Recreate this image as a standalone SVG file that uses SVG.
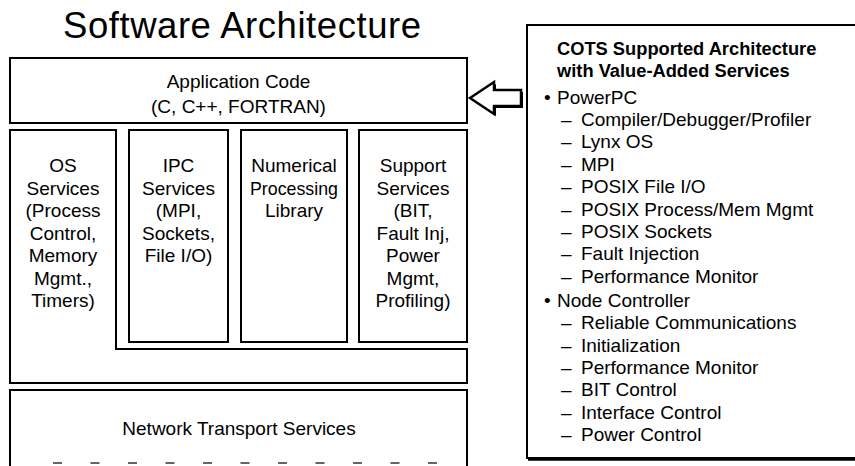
<svg xmlns="http://www.w3.org/2000/svg" width="855" height="466" viewBox="0 0 855 466">
<style>
  .box{fill:#fff;stroke:#000;stroke-width:2}
  .ln{fill:none;stroke:#000;stroke-width:2}
  .t{font-family:"Liberation Sans",Arial,Helvetica,sans-serif;font-size:19px;fill:#000}
  .c{text-anchor:middle}
  .title{font-size:36.5px}
  .b{font-weight:bold;font-size:18.3px}
</style>
<rect width="855" height="466" fill="#fff"/>
<text class="t title" x="63" y="38" textLength="358" lengthAdjust="spacing">Software Architecture</text>

<g id="app-code">
  <rect class="box" x="10" y="58" width="457" height="65"/>
  <text class="t c" x="238.5" y="88">Application Code</text>
  <text class="t c" x="238.5" y="113">(C, C++, FORTRAN)</text>
</g>

<g id="os-services">
  <path class="box" d="M10,130 H116 V349 H467 V383 H10 Z"/>
  <text class="t c" x="63" y="172">OS</text>
  <text class="t c" x="63" y="194.5">Services</text>
  <text class="t c" x="63" y="217">(Process</text>
  <text class="t c" x="63" y="239.5">Control,</text>
  <text class="t c" x="63" y="262">Memory</text>
  <text class="t c" x="63" y="284.5">Mgmt.,</text>
  <text class="t c" x="63" y="307">Timers)</text>
</g>

<g id="ipc-services">
  <rect class="box" x="129" y="130" width="99" height="212"/>
  <text class="t c" x="178.5" y="172">IPC</text>
  <text class="t c" x="178.5" y="194.5">Services</text>
  <text class="t c" x="178.5" y="217">(MPI,</text>
  <text class="t c" x="178.5" y="239.5">Sockets,</text>
  <text class="t c" x="178.5" y="262">File I/O)</text>
</g>

<g id="numerical-library">
  <rect class="box" x="241" y="130" width="106" height="212"/>
  <text class="t c" x="294" y="172">Numerical</text>
  <text class="t c" x="294" y="194.5" textLength="88" lengthAdjust="spacingAndGlyphs">Processing</text>
  <text class="t c" x="294" y="217">Library</text>
</g>

<g id="support-services">
  <rect class="box" x="359" y="130" width="108" height="212"/>
  <text class="t c" x="413" y="172">Support</text>
  <text class="t c" x="413" y="194.5">Services</text>
  <text class="t c" x="413" y="217">(BIT,</text>
  <text class="t c" x="413" y="239.5">Fault Inj,</text>
  <text class="t c" x="413" y="262">Power</text>
  <text class="t c" x="413" y="284.5">Mgmt,</text>
  <text class="t c" x="413" y="307">Profiling)</text>
</g>

<g id="network-transport">
  <path class="ln" d="M10,466 V390 H467 V466"/>
  <line x1="53" y1="463" x2="450" y2="463" stroke="#333" stroke-width="1.5" stroke-dasharray="9 28.5"/>
  <text class="t c" x="239" y="435">Network Transport Services</text>
</g>

<g id="connectors">
  <polygon points="472,100 496,84 496,92 523,92 523,108 496,108 496,116" fill="#000"/>
  <polygon points="470,98 494,82 494,90 521,90 521,106 494,106 494,114" fill="#fff" stroke="#000" stroke-width="2.5" stroke-linejoin="miter"/>
</g>

<g id="cots-panel">
  <rect x="527" y="25" width="340" height="433" fill="#fff" stroke="#000" stroke-width="2"/>
  <line x1="528" y1="459" x2="855" y2="459" stroke="#000" stroke-width="3.5"/>
  <text class="t b" x="557" y="55">COTS Supported Architecture</text>
  <text class="t b" x="557" y="77">with Value-Added Services</text>
  <text class="t" y="103.5"><tspan x="544">•</tspan><tspan x="557">PowerPC</tspan></text>
  <text class="t" y="125.9"><tspan x="561">–</tspan><tspan x="581">Compiler/Debugger/Profiler</tspan></text>
  <text class="t" y="148.3"><tspan x="561">–</tspan><tspan x="581">Lynx OS</tspan></text>
  <text class="t" y="170.7"><tspan x="561">–</tspan><tspan x="581">MPI</tspan></text>
  <text class="t" y="193.1"><tspan x="561">–</tspan><tspan x="581">POSIX File I/O</tspan></text>
  <text class="t" y="215.5"><tspan x="561">–</tspan><tspan x="581">POSIX Process/Mem Mgmt</tspan></text>
  <text class="t" y="237.9"><tspan x="561">–</tspan><tspan x="581">POSIX Sockets</tspan></text>
  <text class="t" y="260.3"><tspan x="561">–</tspan><tspan x="581">Fault Injection</tspan></text>
  <text class="t" y="282.7"><tspan x="561">–</tspan><tspan x="581">Performance Monitor</tspan></text>
  <text class="t" y="307"><tspan x="544">•</tspan><tspan x="557">Node Controller</tspan></text>
  <text class="t" y="329.3"><tspan x="561">–</tspan><tspan x="581">Reliable Communications</tspan></text>
  <text class="t" y="351.6"><tspan x="561">–</tspan><tspan x="581">Initialization</tspan></text>
  <text class="t" y="373.9"><tspan x="561">–</tspan><tspan x="581">Performance Monitor</tspan></text>
  <text class="t" y="396.2"><tspan x="561">–</tspan><tspan x="581">BIT Control</tspan></text>
  <text class="t" y="418.5"><tspan x="561">–</tspan><tspan x="581">Interface Control</tspan></text>
  <text class="t" y="440.8"><tspan x="561">–</tspan><tspan x="581">Power Control</tspan></text>
</g>
</svg>
